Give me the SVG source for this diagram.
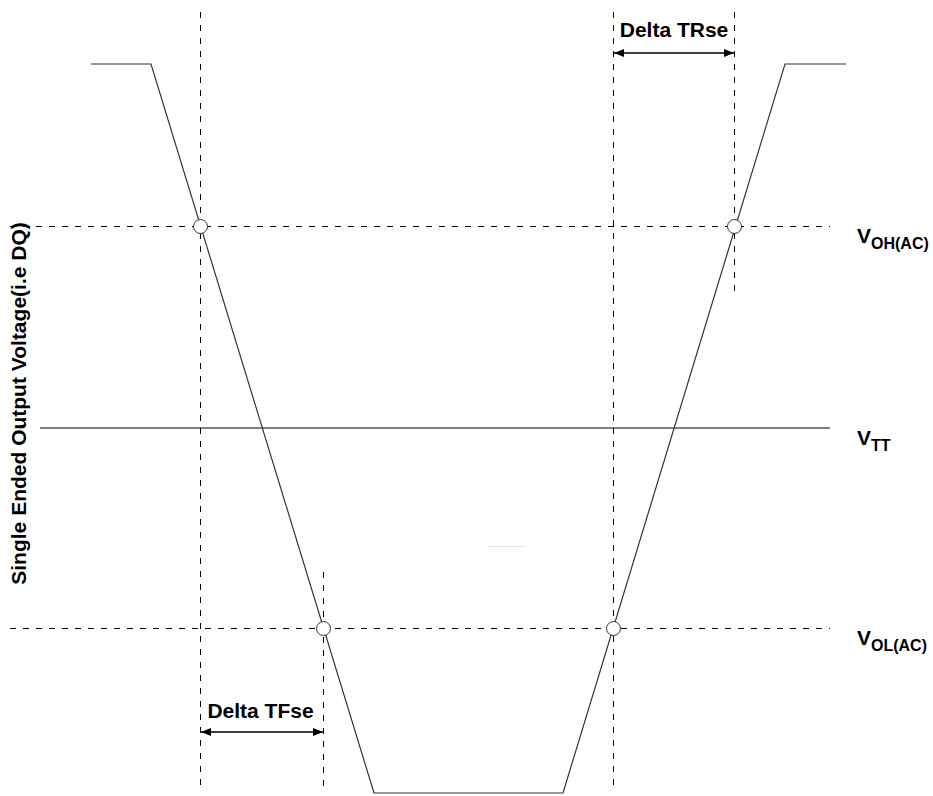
<svg xmlns="http://www.w3.org/2000/svg" width="933" height="796" viewBox="0 0 933 796">
<style>
.dash{stroke:#000;stroke-width:1;stroke-dasharray:6 7;fill:none}
.wave{stroke:#333;stroke-width:1.2;fill:none}
.solid{stroke:#000;stroke-width:1.2;fill:none}
.pt{fill:#fff;stroke:#333;stroke-width:1}
.lbl{font-family:"Liberation Sans",Arial,sans-serif;font-weight:bold;fill:#000}
.arr{stroke:#000;stroke-width:1.5;fill:none;marker-start:url(#ah);marker-end:url(#ah)}
</style>
<defs>
<marker id="ah" viewBox="0 0 10 10" refX="10" refY="5" markerWidth="10" markerHeight="10" markerUnits="userSpaceOnUse" orient="auto-start-reverse">
<path d="M0,1 L10,5 L0,9 Z" fill="#000"/>
</marker>
</defs>
<rect width="933" height="796" fill="#fff"/>
<g id="connectors">
<line class="dash" x1="10" y1="226.5" x2="830" y2="226.5"/>
<line class="dash" x1="10" y1="628.5" x2="830" y2="628.5"/>
<line class="dash" x1="200.5" y1="12" x2="200.5" y2="792"/>
<line class="dash" x1="613.5" y1="12" x2="613.5" y2="792"/>
<line class="dash" x1="323.5" y1="572" x2="323.5" y2="792"/>
<line class="dash" x1="734.5" y1="12" x2="734.5" y2="292"/>
<line class="solid" x1="40" y1="428" x2="830" y2="428"/>
<polyline class="wave" points="91,64 151,64 374,793 563,793 785,64 846,64"/>
<line class="arr" x1="614" y1="53" x2="734" y2="53"/>
<line class="arr" x1="201" y1="732" x2="323" y2="732"/>
<line x1="488" y1="546.5" x2="526" y2="546.5" stroke="#e4e4e4" stroke-width="1"/>
</g>
<g id="points">
<circle class="pt" cx="200.5" cy="226.5" r="7"/>
<circle class="pt" cx="734.5" cy="226.5" r="7"/>
<circle class="pt" cx="323.5" cy="628.5" r="7"/>
<circle class="pt" cx="613.5" cy="628.5" r="7"/>
</g>
<g id="label-trse"><text class="lbl" x="674" y="37" font-size="21" text-anchor="middle">Delta TRse</text></g>
<g id="label-tfse"><text class="lbl" x="260.5" y="718" font-size="21" text-anchor="middle">Delta TFse</text></g>
<g id="label-voh"><text class="lbl" x="857" y="243" font-size="21">V<tspan font-size="16" dy="6">OH(AC)</tspan></text></g>
<g id="label-vtt"><text class="lbl" x="857" y="445" font-size="21">V<tspan font-size="16" dy="6">TT</tspan></text></g>
<g id="label-vol"><text class="lbl" x="857" y="645" font-size="21">V<tspan font-size="16" dy="6">OL(AC)</tspan></text></g>
<g id="axis-label"><text class="lbl" font-size="21" text-anchor="middle" transform="translate(25.5,403.5) rotate(-90)">Single Ended Output Voltage(i.e DQ)</text></g>
</svg>
